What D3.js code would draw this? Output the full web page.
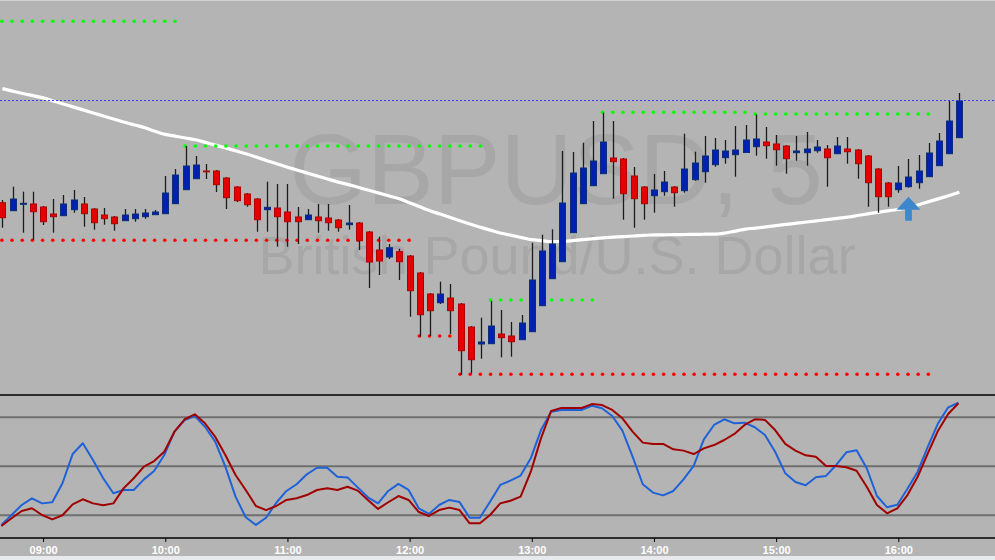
<!DOCTYPE html>
<html><head><meta charset="utf-8">
<script src="https://cdn.jsdelivr.net/npm/d3@7"></script>
<style>
html,body{margin:0;padding:0;background:#e8e9ed;}
svg{display:block;}
</style></head><body>
<svg id="chart" width="995" height="560"></svg>
<script>
// ---------- DATA ----------
const symbol = "GBPUSD, 5";
const description = "British Pound/U.S. Dollar";
const startTime = "08:40";
const barMinutes = 5;

const open = [
1.31973,1.31893,1.31957,1.31960,1.31930,1.31860,1.31843,1.31903,1.31960,1.31910,
1.31850,1.31830,1.31793,1.31813,1.31833,1.31853,1.31863,1.31963,1.32103,1.32213,
1.32290,1.32290,1.32220,1.32130,1.32060,1.32010,1.31903,1.31920,1.31880,1.31830,
1.31803,1.31830,1.31820,1.31800,1.31753,1.31770,1.31680,1.31500,1.31430,1.31483,
1.31440,1.31270,1.31060,1.30973,1.31020,1.30960,1.30730,1.30560,1.30563,1.30660,
1.30640,1.30603,1.30683,1.30943,1.31213,1.31383,1.31673,1.31963,1.32143,1.32263,
1.32420,1.32410,1.32240,1.32130,1.32043,1.32083,1.32130,1.32093,1.32203,1.32283,
1.32353,1.32423,1.32453,1.32475,1.32533,1.32580,1.32560,1.32540,1.32473,1.32473,
1.32493,1.32510,1.32463,1.32510,1.32500,1.32440,1.32310,1.32170,1.32103,1.32133,
1.32173,1.32233,1.32343,1.32463,1.32623];
const high = [
1.32000,1.32133,1.32083,1.32083,1.31940,1.32010,1.32050,1.32100,1.32030,1.31920,
1.31920,1.31840,1.31910,1.31910,1.31910,1.31900,1.32240,1.32310,1.32540,1.32440,
1.32360,1.32300,1.32230,1.32140,1.32070,1.32020,1.32183,1.32160,1.32160,1.31930,
1.31910,1.31960,1.31960,1.31810,1.31950,1.31780,1.31690,1.31633,1.31560,1.31513,
1.31450,1.31280,1.31070,1.31183,1.31160,1.30970,1.30740,1.30823,1.30990,1.30900,
1.30780,1.30850,1.31573,1.31653,1.31707,1.32490,1.32480,1.32573,1.32790,1.32873,
1.32790,1.32420,1.32330,1.32140,1.32260,1.32290,1.32140,1.32663,1.32483,1.32640,
1.32620,1.32600,1.32740,1.32750,1.32855,1.32730,1.32650,1.32550,1.32640,1.32680,
1.32600,1.32550,1.32630,1.32630,1.32510,1.32450,1.32320,1.32180,1.32340,1.32410,
1.32450,1.32570,1.32670,1.32990,1.33070];
const low = [
1.31723,1.31890,1.31673,1.31600,1.31750,1.31673,1.31840,1.31873,1.31733,1.31703,
1.31753,1.31693,1.31790,1.31783,1.31813,1.31850,1.31860,1.31960,1.32100,1.32210,
1.32210,1.32080,1.31910,1.31980,1.31933,1.31683,1.31683,1.31533,1.31533,1.31560,
1.31800,1.31673,1.31693,1.31683,1.31703,1.31500,1.31120,1.31250,1.31410,1.31200,
1.30833,1.30633,1.30640,1.30960,1.30660,1.30250,1.30267,1.30413,1.30560,1.30427,
1.30433,1.30600,1.30680,1.30940,1.31210,1.31380,1.31670,1.31960,1.32140,1.32260,
1.32013,1.31803,1.31723,1.31803,1.31873,1.32043,1.31933,1.32073,1.32193,1.32173,
1.32333,1.32363,1.32233,1.32470,1.32443,1.32413,1.32343,1.32263,1.32393,1.32343,
1.32473,1.32133,1.32460,1.32363,1.32213,1.31933,1.31873,1.31933,1.32073,1.32123,
1.32113,1.32230,1.32340,1.32460,1.32620];
const close = [
1.31823,1.32010,1.31967,1.31883,1.31783,1.31833,1.31960,1.32000,1.31863,1.31773,
1.31813,1.31763,1.31850,1.31860,1.31870,1.31880,1.32070,1.32250,1.32340,1.32350,
1.32283,1.32153,1.32023,1.31993,1.31953,1.31803,1.31927,1.31833,1.31783,1.31783,
1.31850,1.31793,1.31773,1.31723,1.31770,1.31593,1.31380,1.31390,1.31523,1.31383,
1.31093,1.30853,1.30893,1.31060,1.30893,1.30493,1.30403,1.30580,1.30740,1.30623,
1.30583,1.30770,1.31200,1.31490,1.31560,1.31970,1.32270,1.32320,1.32390,1.32580,
1.32383,1.32063,1.32013,1.31963,1.32100,1.32180,1.32073,1.32310,1.32370,1.32440,
1.32500,1.32490,1.32500,1.32600,1.32610,1.32543,1.32503,1.32413,1.32490,1.32510,
1.32530,1.32423,1.32540,1.32483,1.32363,1.32173,1.32033,1.32033,1.32170,1.32230,
1.32290,1.32470,1.32590,1.32790,1.32990];
const movingAverage = [
1.33114,1.33089,1.33065,1.33044,1.33021,1.32990,1.32960,1.32929,1.32899,1.32868,
1.32837,1.32807,1.32777,1.32750,1.32723,1.32687,1.32656,1.32638,1.32620,1.32602,
1.32574,1.32546,1.32519,1.32490,1.32460,1.32427,1.32393,1.32359,1.32328,1.32298,
1.32268,1.32238,1.32208,1.32179,1.32154,1.32125,1.32097,1.32069,1.32040,1.32012,
1.31972,1.31932,1.31892,1.31859,1.31825,1.31790,1.31757,1.31726,1.31696,1.31667,
1.31646,1.31624,1.31603,1.31593,1.31584,1.31585,1.31594,1.31604,1.31613,1.31622,
1.31628,1.31634,1.31640,1.31646,1.31651,1.31652,1.31653,1.31655,1.31656,1.31658,
1.31659,1.31670,1.31689,1.31708,1.31719,1.31732,1.31744,1.31756,1.31768,1.31780,
1.31792,1.31804,1.31816,1.31829,1.31845,1.31861,1.31877,1.31892,1.31905,1.31922,
1.31953,1.31984,1.32014,1.32045,1.32078];
const stochK = [
14.1,20.2,26.3,30.4,27.3,28.0,39.6,57.5,64.1,53.9,
42.7,33.5,35.5,35.5,42.0,47.1,56.9,71.2,78.3,80.8,
74.2,65.1,49.8,31.4,18.8,14.1,18.5,27.7,34.9,39.0,
45.1,49.1,49.1,43.6,43.2,37.1,31.0,27.3,34.9,39.2,
35.5,24.3,20.8,26.3,29.4,28.1,18.5,18.5,28.3,38.6,
41.2,44.3,54.9,72.2,83.4,84.5,84.5,84.5,87.1,85.5,
80.8,71.8,55.9,39.0,33.9,32.2,34.9,42.0,50.2,66.5,
75.3,78.8,76.3,76.7,73.9,69.2,58.9,45.7,40.4,38.4,
43.3,44.1,50.8,58.6,59.8,48.8,31.8,24.9,26.5,36.3,
46.7,62.0,76.3,86.1,88.9];
const stochD = [
13.4,18.2,22.6,24.3,20.2,17.5,20.0,26.7,29.8,27.3,
26.1,27.3,36.5,42.7,49.8,53.2,58.9,71.2,78.8,81.8,
76.3,68.1,56.9,44.7,35.5,25.7,23.2,25.7,29.4,30.4,
32.4,35.5,36.5,35.5,37.5,35.1,29.4,23.9,28.0,31.8,
29.4,22.0,19.6,23.2,24.7,23.2,15.1,15.1,20.2,27.3,
28.9,31.4,46.7,67.1,83.9,85.7,85.7,85.7,88.1,87.5,
84.5,79.4,71.2,64.5,63.7,63.7,60.4,59.6,57.5,61.0,
63.0,66.1,69.8,75.3,78.8,78.4,72.2,63.7,59.6,56.7,
55.9,50.2,50.2,49.4,47.3,37.5,26.3,21.2,24.3,32.4,
43.6,58.0,71.8,82.0,88.6];
// [price, from, to]
const resistanceLevels = [
  [1.33787,"08:40","10:05"],
  [1.32540,"10:10","12:35"],
  [1.31000,"12:40","13:30"],
  [1.32877,"13:35","14:45"],
  [1.32860,"14:50","16:15"]];
const supportLevels = [
  [1.31597,"08:40","12:00"],
  [1.30640,"12:05","12:20"],
  [1.30257,"12:25","16:15"]];
const bidPrice = 1.33000;
const buySignal = ["16:05", 1.32033];
const hourTicks = ["09:00","10:00","11:00","12:00","13:00","14:00","15:00","16:00"];
const stochLevels = [20,50,80];

// ---------- SCALES ----------
const parse = s => { const [h,m] = s.split(":").map(Number); return new Date(2024,0,2,h,m); };
const times = open.map((_, i) => d3.timeMinute.offset(parse(startTime), i*barMinutes));
const bars = open.map((o,i)=>({t:times[i],o,h:high[i],l:low[i],c:close[i]}));

const W = 995, H = 560;
const x = d3.scaleTime().domain([parse("09:00"), parse("16:00")]).range([43.1, 898.3]);
const y = d3.scaleLinear().domain([1.30, 1.34]).range([400, 0]);
const ys = d3.scaleLinear().domain([20, 80]).range([515.3, 417.3]);
const cx = t => Math.round(x(t)) + 0.5;

const svg = d3.select("#chart");
svg.append("rect").attr("x",0).attr("y",0).attr("width",W).attr("height",556).attr("fill","#b4b4b4");
svg.append("line").attr("x1",0).attr("x2",W).attr("y1",0.5).attr("y2",0.5).attr("stroke","#d2d2d2");

// watermark
const wm = svg.append("g").attr("fill","#a7a7a7").attr("font-family","'Liberation Sans', Arial, sans-serif").attr("text-anchor","middle");
wm.append("text").attr("x",556).attr("y",204).attr("font-size",100).text(symbol);
wm.append("text").attr("x",557).attr("y",274).attr("font-size",54).text(description);

const main = svg.append("g");
// moving average
main.append("path").datum(movingAverage)
  .attr("fill","none").attr("stroke","#ffffff").attr("stroke-width",3.2).attr("stroke-linejoin","round")
  .attr("d", d3.line().x((d,i)=>x(times[i])).y(d=>y(d)).curve(d3.curveMonotoneX));

// level dots
function dots(levels, color){
  levels.forEach(([p,a,b])=>{
    const ts = d3.timeMinute.range(parse(a), d3.timeMinute.offset(parse(b),1), 5);
    main.append("g").selectAll("circle").data(ts).join("circle")
      .attr("cx",d=>x(d)-0.5).attr("cy",y(p)).attr("r",1.8).attr("fill",color);
  });
}
dots(resistanceLevels,"#00ff00");
dots(supportLevels,"#ff0000");

// candles
const cg = main.append("g");
cg.selectAll("line.w").data(bars).join("line")
  .attr("x1",d=>cx(d.t)).attr("x2",d=>cx(d.t))
  .attr("y1",d=>y(d.h)).attr("y2",d=>y(d.l))
  .attr("stroke","#1c1c1c").attr("stroke-width",1.3);
cg.selectAll("rect").data(bars).join("rect")
  .attr("x",d=>cx(d.t)-3)
  .attr("width",6)
  .attr("y",d=>y(Math.max(d.o,d.c)))
  .attr("height",d=>Math.max(0.8, y(Math.min(d.o,d.c))-y(Math.max(d.o,d.c))))
  .attr("fill",d=>d.c>=d.o?"#0020b4":"#e40000")
  .attr("stroke",d=>d.c>=d.o?"#0b2f72":"#b00000")
  .attr("stroke-width",1);

// bid line
main.append("line").attr("x1",0).attr("x2",W).attr("y1",Math.round(y(bidPrice))+0.5).attr("y2",Math.round(y(bidPrice))+0.5)
  .attr("stroke","#3a3aff").attr("stroke-width",1).attr("stroke-dasharray","2,2");

// buy arrow
const ax = x(parse(buySignal[0])), ay = y(buySignal[1]);
main.append("path")
  .attr("d", d3.line()([[0,0],[12,13],[3.4,13],[3.4,24],[-3.4,24],[-3.4,13],[-12,13]]) + "Z")
  .attr("transform",`translate(${ax},${ay})`)
  .attr("fill","#3d88cc");

// ---------- STOCHASTIC ----------
const sg = svg.append("g");
sg.append("line").attr("x1",0).attr("x2",W).attr("y1",395).attr("y2",395).attr("stroke","#000").attr("stroke-width",1.6);
sg.selectAll("line.g").data(stochLevels).join("line")
  .attr("x1",0).attr("x2",W).attr("y1",d=>ys(d)).attr("y2",d=>ys(d))
  .attr("stroke","#6f6f6f").attr("stroke-width",2);
const sl = d3.line().x((d,i)=>x(times[i])-1).y(d=>ys(d));
sg.append("path").datum(stochK).attr("fill","none").attr("stroke","#1f62d8").attr("stroke-width",2).attr("stroke-linejoin","round").attr("d",sl);
sg.append("path").datum(stochD).attr("fill","none").attr("stroke","#a00000").attr("stroke-width",2).attr("stroke-linejoin","round").attr("d",sl);

// ---------- AXIS ----------
svg.append("line").attr("x1",0).attr("x2",W).attr("y1",538).attr("y2",538).attr("stroke","#000").attr("stroke-width",1.5);
const axis = d3.axisBottom(x).tickValues(hourTicks.map(parse)).tickFormat(d3.timeFormat("%H:%M")).tickSize(4).tickPadding(4);
const ag = svg.append("g").attr("transform","translate(0,538)").call(axis);
ag.select(".domain").remove();
ag.selectAll(".tick line").attr("stroke","#000");
ag.selectAll(".tick text").attr("fill","#ffffff").attr("font-family","'Liberation Sans', Arial, sans-serif")
  .attr("font-weight","bold").attr("font-size",11);
</script>
</body></html>
